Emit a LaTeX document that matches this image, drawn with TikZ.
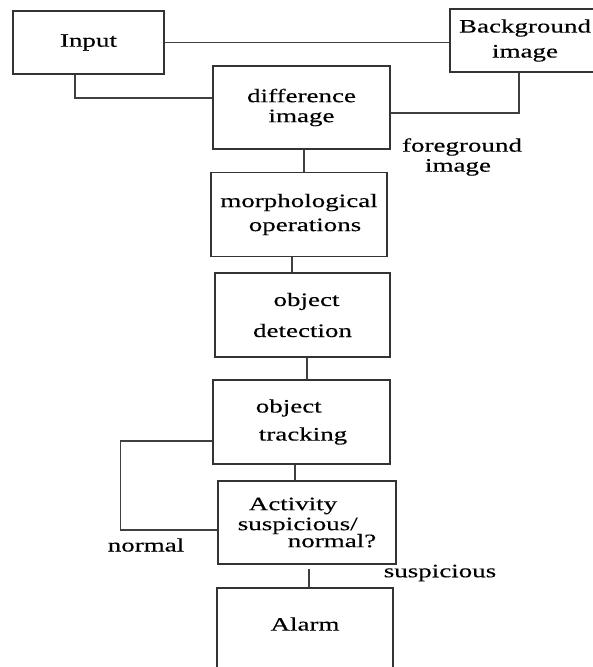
\documentclass[tikz,border=0pt]{standalone}
\usepackage{fontspec}
\setmainfont{Liberation Serif}[FakeStretch=1.42,FakeBold=0.3]
\usetikzlibrary{positioning}

\begin{document}
\begin{tikzpicture}[%
    x=1pt, y=-1pt,
    node distance=107pt,
    on grid,
    font=\fontsize{19}{20}\selectfont,
    block/.style={draw=black!80, line width=1.3pt, minimum width=176pt,
      minimum height=84pt, inner sep=2pt, align=center},
    link/.style={draw=black!75, line width=1.7pt}
  ]
    \useasboundingbox (0,0) rectangle (592,667);

    \node[block, minimum width=151pt, minimum height=63pt] (input) at (88.5,42.5) {Input};
    \node[block, minimum width=150pt, minimum height=63pt] (back) at (525,40.5) {Background\\[5pt]image};
    \node[block, minimum width=177pt, minimum height=83pt] (diff) at (301.5,107.5) {difference\\image};
    \node[block] (morph) [below=107pt of diff, xshift=-2.5pt] {morphological\\[4pt]\hspace*{12pt}operations};
    \node[block, minimum width=175pt] (detect) [below=100.5pt of morph, xshift=3.5pt] {\hspace*{8pt}object\\[11pt]detection};
    \node[block, minimum width=177pt] (track) [below=107pt of detect, xshift=-1pt, align=left] {object\\[8pt]\hspace*{3pt}tracking};
    \node[block, minimum width=178pt, minimum height=83pt] (act) [below=100.5pt of track, xshift=5.5pt, align=left] {\hspace*{11pt}Activity\\suspicious/\\[-3pt]\hspace*{50pt}normal?};
    \node[block, minimum height=90pt] (alarm) [below=110.5pt of act, xshift=-2pt] {\raisebox{18pt}{Alarm}};

    \node[align=center] (fg) at (462,157) {foreground\\\hspace*{-8pt}image};
    \node (normal) at (146,545) {normal};
    \node (susp) at (440,573) {suspicious};

    \draw[link, line width=1.2pt] (input.east) -- (input.east -| back.west);
    \draw[link] ([xshift=-13.5pt]input.south) |- ([yshift=9.5pt]diff.west);
    \draw[link] ([xshift=-6pt]back.south) |- ([yshift=-5.5pt]diff.east);
    \draw[link] ([xshift=2.5pt]diff.south) -- ([xshift=2.5pt]diff.south |- morph.north);
    \draw[link] ([xshift=-7pt]morph.south) -- ([xshift=-7pt]morph.south |- detect.north);
    \draw[link] ([xshift=4.5pt]detect.south) -- ([xshift=4.5pt]detect.south |- track.north);
    \draw[link] ([xshift=-6.5pt]track.south) -- ([xshift=-6.5pt]track.south |- act.north);
    \draw[link] ([xshift=2pt,yshift=-4pt]act.south) -- ([xshift=2pt]act.south |- alarm.north);
    \draw[link, line width=1.4pt] ([yshift=-19pt]track.west) -- ++(-92,0) |- ([yshift=-7.5pt]act.west);
  \end{tikzpicture}
\end{document}
